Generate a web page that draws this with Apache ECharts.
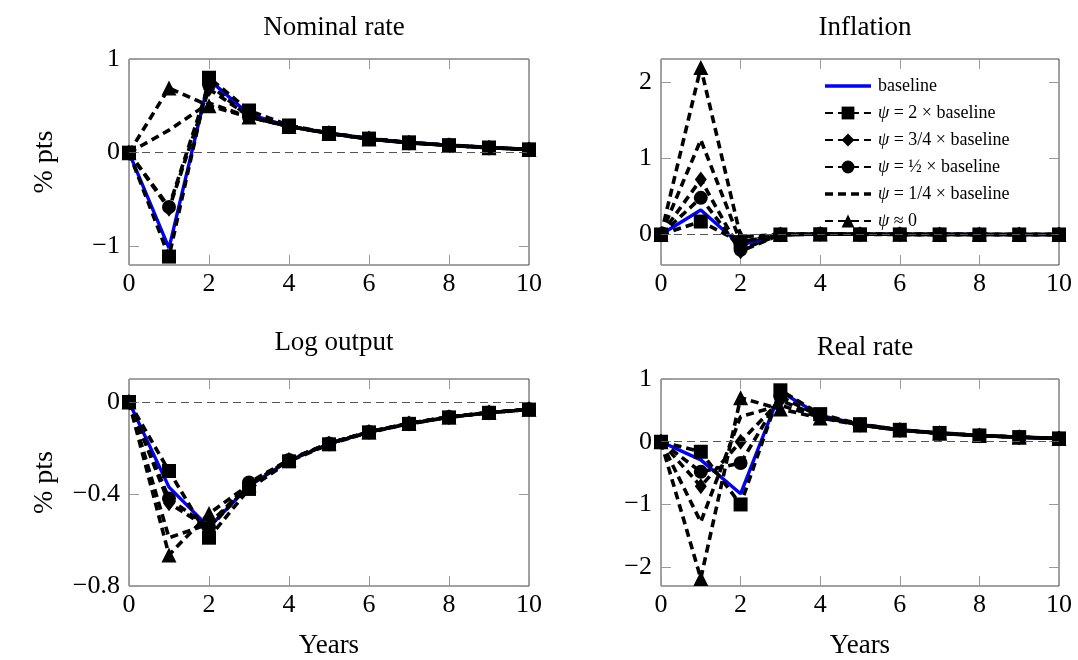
<!DOCTYPE html>
<html>
<head>
<meta charset="utf-8">
<script src="https://cdn.jsdelivr.net/npm/echarts@6/dist/echarts.min.js"></script>
<style>
  html, body { margin: 0; padding: 0; background: #fff; }
  #chart { width: 1078px; height: 660px; }
</style>
</head>
<body>
<div id="chart"></div>
<script>
// data
const years = [0, 1, 2, 3, 4, 5, 6, 7, 8, 9, 10];
const xTicks = [0, 2, 4, 6, 8, 10];

// Nominal rate
const nomBase  = [0, -1.02, 0.78, 0.41, 0.28, 0.21, 0.15, 0.11, 0.08, 0.055, 0.035];
const nomPsi2  = [0, -1.11, 0.80, 0.45, 0.29, 0.21, 0.15, 0.11, 0.08, 0.055, 0.035];
const nomPsi34 = [0, -0.60, 0.68, 0.39, 0.28, 0.21, 0.15, 0.105, 0.078, 0.053, 0.034];
const nomPsi12 = [0, -0.58, 0.73, 0.38, 0.28, 0.205, 0.145, 0.105, 0.078, 0.053, 0.034];
const nomPsi14 = [0, 0.24, 0.53, 0.38, 0.28, 0.205, 0.145, 0.105, 0.078, 0.053, 0.034];
const nomPsi0  = [0, 0.69, 0.50, 0.38, 0.28, 0.205, 0.145, 0.105, 0.078, 0.053, 0.034];
const nomTicks = [-1, 0, 1];

// Inflation
const infBase  = [0, 0.32, -0.14, 0.0, 0.004, 0.003, 0.002, 0.001, 0.001, 0, 0];
const infPsi2  = [0, 0.17, -0.10, 0.0, 0.003, 0.002, 0.001, 0.001, 0, 0, 0];
const infPsi34 = [0, 0.72, -0.22, 0.0, 0.005, 0.003, 0.002, 0.001, 0.001, 0, 0];
const infPsi12 = [0, 0.48, -0.20, 0.0, 0.005, 0.003, 0.002, 0.001, 0.001, 0, 0];
const infPsi14 = [0, 1.24, -0.10, 0.0, 0.005, 0.003, 0.002, 0.001, 0.001, 0, 0];
const infPsi0  = [0, 2.19, -0.03, 0.0, 0.005, 0.003, 0.002, 0.001, 0.001, 0, 0];
const infTicks = [0, 1, 2];

// Log output
const outBase  = [0, -0.37, -0.545, -0.365, -0.255, -0.182, -0.13, -0.094, -0.066, -0.046, -0.032];
const outPsi2  = [0, -0.30, -0.59, -0.378, -0.258, -0.184, -0.132, -0.095, -0.067, -0.047, -0.033];
const outPsi34 = [0, -0.44, -0.55, -0.36, -0.253, -0.181, -0.13, -0.094, -0.066, -0.046, -0.032];
const outPsi12 = [0, -0.42, -0.545, -0.35, -0.252, -0.18, -0.13, -0.093, -0.065, -0.046, -0.032];
const outPsi14 = [0, -0.59, -0.53, -0.36, -0.252, -0.18, -0.13, -0.093, -0.065, -0.046, -0.032];
const outPsi0  = [0, -0.665, -0.485, -0.36, -0.25, -0.18, -0.13, -0.093, -0.065, -0.046, -0.032];
const outTicks = [-0.8, -0.4, 0];

// Real rate
const realBase  = [0, -0.29, -0.83, 0.80, 0.42, 0.275, 0.19, 0.135, 0.10, 0.072, 0.052];
const realPsi2  = [0, -0.16, -1.00, 0.82, 0.44, 0.28, 0.19, 0.14, 0.10, 0.074, 0.053];
const realPsi34 = [0, -0.71, 0.0, 0.66, 0.40, 0.27, 0.185, 0.135, 0.098, 0.072, 0.052];
const realPsi12 = [0, -0.48, -0.34, 0.72, 0.40, 0.27, 0.185, 0.135, 0.098, 0.072, 0.052];
const realPsi14 = [0, -1.28, 0.40, 0.58, 0.39, 0.27, 0.185, 0.135, 0.098, 0.072, 0.052];
const realPsi0  = [0, -2.18, 0.70, 0.52, 0.38, 0.265, 0.185, 0.135, 0.098, 0.072, 0.052];
const realTicks = [-2, -1, 0, 1];

const FONT = "'Liberation Serif', 'DejaVu Serif', serif";
const chart = echarts.init(document.getElementById("chart"));

const legendNames = {
  baseline: "baseline",
  psi2: "{p|ψ} = 2 × baseline",
  psi34: "{p|ψ} = 3/4 × baseline",
  psi12: "{p|ψ} = ½ × baseline",
  psi14: "{p|ψ} = 1/4 × baseline",
  psi0: "{p|ψ} ≈ 0",
};
// legend icons for the two series without markers (tiny specks keep the 46x16 box)
const solidIcon = "path://M0,0L0.01,0L0.01,0.01Z M0,6.2h46v3.6h-46z M0,16L0.01,16L0.01,15.99Z";
const dashIcon = "path://M0,0L0.01,0L0.01,0.01Z M0,6.2h8v3.6h-8z M13,6.2h8v3.6h-8z M26,6.2h8v3.6h-8z M39,6.2h7v3.6h-7z M0,16L0.01,16L0.01,15.99Z";

const panels = [
  { title: "Nominal rate", min: -1.2, max: 1, ticks: nomTicks, rows: [nomBase, nomPsi2, nomPsi34, nomPsi12, nomPsi14, nomPsi0],
    grid: { left: 129, right: 549, top: 59, bottom: 395 }, yName: "% pts", xName: "" },
  { title: "Inflation", min: -0.4, max: 2.3, ticks: infTicks, rows: [infBase, infPsi2, infPsi34, infPsi12, infPsi14, infPsi0],
    grid: { left: 661, right: 19, top: 59, bottom: 395 }, yName: "", xName: "" },
  { title: "Log output", min: -0.8, max: 0.1, ticks: outTicks, rows: [outBase, outPsi2, outPsi34, outPsi12, outPsi14, outPsi0],
    grid: { left: 129, right: 549, top: 379, bottom: 74 }, yName: "% pts", xName: "Years" },
  { title: "Real rate", min: -2.3, max: 1, ticks: realTicks, rows: [realBase, realPsi2, realPsi34, realPsi12, realPsi14, realPsi0],
    grid: { left: 661, right: 19, top: 379, bottom: 74 }, yName: "", xName: "Years" },
];

const fmt = (v) => (v < 0 ? "\u2212" + Math.abs(v) : String(v));
const tickStyle = { inside: true, length: 10, lineStyle: { color: "#999", width: 1 } };
const noLine = { show: false, onZero: false };

const grids = [], xAxes = [], yAxes = [], series = [], titles = [];

panels.forEach((p, i) => {
  grids.push(Object.assign({ show: true, borderColor: "#444", borderWidth: 1 }, p.grid));
  const cx = (p.grid.left + (1078 - p.grid.right)) / 2;
  titles.push({
    text: p.title, left: cx, textAlign: "center", top: i < 2 ? 9 : (i === 2 ? 324 : 329),
    textStyle: { fontFamily: FONT, fontSize: 27, fontWeight: "normal", color: "#000" },
  });
  // bottom + top x axes
  xAxes.push({
    type: "value", gridIndex: i, min: 0, max: 10, position: "bottom",
    axisLine: noLine, splitLine: { show: false },
    axisTick: Object.assign({ customValues: xTicks }, tickStyle),
    axisLabel: { customValues: xTicks, fontFamily: FONT, fontSize: 26, color: "#000", margin: 6 },
    name: p.xName, nameLocation: "middle", nameGap: 46,
    nameTextStyle: { fontFamily: FONT, fontSize: 27, color: "#000" },
  });
  xAxes.push({
    type: "value", gridIndex: i, min: 0, max: 10, position: "top",
    axisLine: noLine, splitLine: { show: false },
    axisTick: Object.assign({ customValues: xTicks }, tickStyle),
    axisLabel: { show: false },
  });
  // left + right y axes
  yAxes.push({
    type: "value", gridIndex: i, min: p.min, max: p.max, position: "left",
    axisLine: noLine, splitLine: { show: false },
    axisTick: Object.assign({ customValues: p.ticks }, tickStyle),
    axisLabel: { customValues: p.ticks, formatter: fmt, fontFamily: FONT, fontSize: 26, color: "#000", margin: 9 },
    name: p.yName, nameLocation: "middle", nameGap: 70, nameRotate: 90,
    nameTextStyle: { fontFamily: FONT, fontSize: 28, color: "#000" },
  });
  yAxes.push({
    type: "value", gridIndex: i, min: p.min, max: p.max, position: "right",
    axisLine: noLine, splitLine: { show: false },
    axisTick: Object.assign({ customValues: p.ticks }, tickStyle),
    axisLabel: { show: false },
  });

  const pairs = (vals) => years.map((x, k) => [x, vals[k]]);
  const dashed = { color: "#000", width: 3.6, type: [8, 5] };
  const common = { xAxisIndex: 2 * i, yAxisIndex: 2 * i, type: "line", silent: true, z: 3 };

  // drawing order: blue first, square markers last
  series.push(Object.assign({}, common, {
    name: "baseline", data: pairs(p.rows[0]), symbol: "none",
    lineStyle: { color: "#0000ff", width: 3.4 }, itemStyle: { color: "#0000ff" }, z: 2,
    markLine: {
      silent: true, symbol: "none", label: { show: false },
      lineStyle: { color: "#555", width: 1.2, type: [8, 5] },
      data: [{ yAxis: 0 }],
    },
  }));
  series.push(Object.assign({}, common, {
    name: "psi14", data: pairs(p.rows[4]), symbol: "none",
    lineStyle: dashed, itemStyle: { color: "#000" },
  }));
  series.push(Object.assign({}, common, {
    name: "psi0", data: pairs(p.rows[5]), symbol: "triangle", symbolSize: 15,
    lineStyle: dashed, itemStyle: { color: "#000" },
  }));
  series.push(Object.assign({}, common, {
    name: "psi34", data: pairs(p.rows[2]), symbol: "diamond", symbolSize: [12, 16],
    lineStyle: dashed, itemStyle: { color: "#000" },
  }));
  series.push(Object.assign({}, common, {
    name: "psi12", data: pairs(p.rows[3]), symbol: "circle", symbolSize: 14,
    lineStyle: dashed, itemStyle: { color: "#000" },
  }));
  series.push(Object.assign({}, common, {
    name: "psi2", data: pairs(p.rows[1]), symbol: "rect", symbolSize: 14,
    lineStyle: dashed, itemStyle: { color: "#000" },
  }));
});

const options = {
  animation: false,
  title: titles,
  grid: grids,
  xAxis: xAxes,
  yAxis: yAxes,
  legend: {
    data: [
      { name: "baseline", icon: solidIcon },
      "psi2", "psi34", "psi12",
      { name: "psi14", icon: dashIcon },
      "psi0",
    ],
    orient: "vertical", left: 819, top: 72,
    itemWidth: 46, itemHeight: 16, itemGap: 9,
    selectedMode: false, z: 10,
    formatter: (name) => legendNames[name],
    textStyle: {
      fontFamily: FONT, fontSize: 18, color: "#000", padding: [0, 0, 0, 2],
      rich: { p: { fontFamily: FONT, fontSize: 18, fontStyle: "italic", color: "#000" } },
    },
  },
  series: series,
};
chart.setOption(options);
</script>
</body>
</html>
